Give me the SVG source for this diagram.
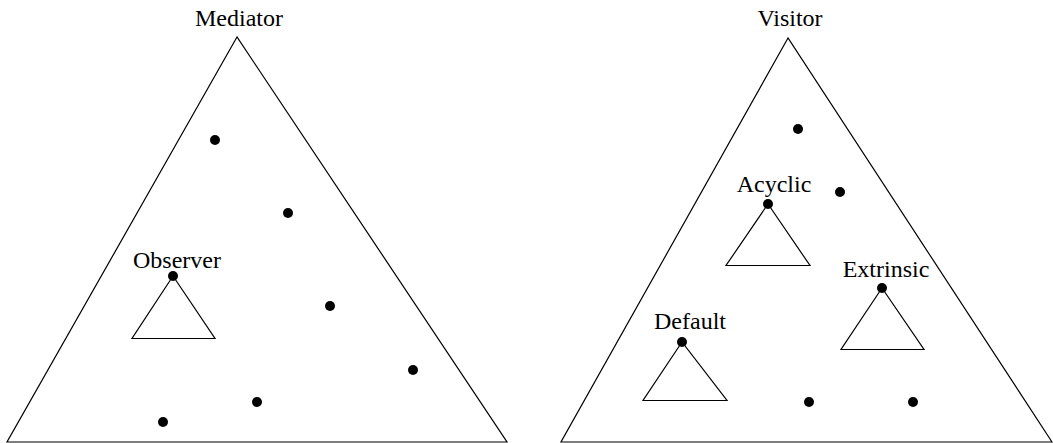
<svg xmlns="http://www.w3.org/2000/svg" width="1053" height="443" viewBox="0 0 1053 443">
<style>
.tri{fill:none;stroke:#000;stroke-width:1.2;stroke-linejoin:miter}
.dot{fill:#000}
text{font-family:"Liberation Serif","Times New Roman",serif;font-size:24px;fill:#000;text-anchor:middle}
</style>
<rect width="1053" height="443" fill="#fff"/>
<g id="mediator">
<polygon class="tri" points="237,37 7,442 507,442"/>
<text x="239" y="26">Mediator</text>
</g>
<g id="visitor">
<polygon class="tri" points="788,38 561,442 1052,442"/>
<text x="790" y="26">Visitor</text>
</g>
<g id="observer">
<polygon class="tri" points="173,276 132,338.5 215,338.5"/>
<circle class="dot" cx="173" cy="276" r="5"/>
<text x="177" y="268">Observer</text>
</g>
<g id="acyclic">
<polygon class="tri" points="768,204 726,265.5 810,265.5"/>
<circle class="dot" cx="768" cy="204" r="5"/>
<text x="774" y="192">Acyclic</text>
</g>
<g id="extrinsic">
<polygon class="tri" points="882,288 841,349.5 924,349.5"/>
<circle class="dot" cx="882" cy="288" r="5"/>
<text x="886" y="277">Extrinsic</text>
</g>
<g id="default">
<polygon class="tri" points="682,342 643,400.5 727,400.5"/>
<circle class="dot" cx="682" cy="342" r="5"/>
<text x="690" y="329">Default</text>
</g>
<g id="dots">
<circle class="dot" cx="215" cy="140" r="5"/>
<circle class="dot" cx="288" cy="213" r="5"/>
<circle class="dot" cx="330" cy="306" r="5"/>
<circle class="dot" cx="413" cy="370" r="5"/>
<circle class="dot" cx="257" cy="402" r="5"/>
<circle class="dot" cx="163" cy="422" r="5"/>
<circle class="dot" cx="798" cy="129" r="5"/>
<circle class="dot" cx="840" cy="192" r="5"/>
<circle class="dot" cx="809" cy="402" r="5"/>
<circle class="dot" cx="913" cy="402" r="5"/>
</g>
<g id="connectors"></g>
</svg>
